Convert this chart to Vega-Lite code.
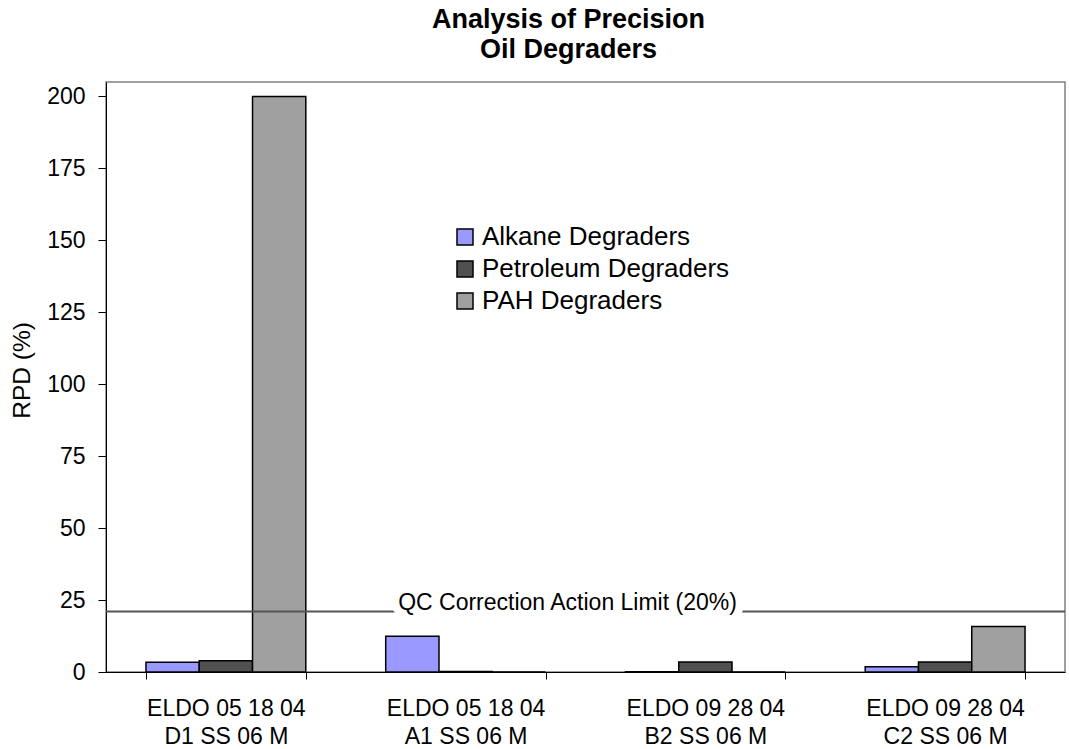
{
  "$schema": "https://vega.github.io/schema/vega-lite/v6.json",
  "width": 959,
  "height": 590,
  "autosize": {"type": "none"},
  "padding": {"left": 106, "top": 82, "right": 4, "bottom": 77},
  "background": "white",
  "title": {
    "text": ["Analysis of Precision", "Oil Degraders"],
    "font": "Liberation Sans",
    "fontSize": 27,
    "fontWeight": "bold",
    "lineHeight": 30,
    "anchor": "middle",
    "frame": "group",
    "dx": -17,
    "offset": 18,
    "color": "black"
  },
  "config": {
    "view": {"stroke": "#808080", "strokeWidth": 1.5},
    "font": "Liberation Sans",
    "axis": {
      "domainColor": "black",
      "tickColor": "black",
      "labelColor": "black",
      "titleColor": "black",
      "labelFont": "Liberation Sans",
      "titleFont": "Liberation Sans",
      "grid": false
    }
  },
  "datasets": {
    "rpd": [
      {"sample": "ELDO 05 18 04 D1 SS 06 M", "series": "Alkane Degraders", "rpd": 3.4},
      {"sample": "ELDO 05 18 04 D1 SS 06 M", "series": "Petroleum Degraders", "rpd": 3.9},
      {"sample": "ELDO 05 18 04 D1 SS 06 M", "series": "PAH Degraders", "rpd": 200},
      {"sample": "ELDO 05 18 04 A1 SS 06 M", "series": "Alkane Degraders", "rpd": 12.4},
      {"sample": "ELDO 05 18 04 A1 SS 06 M", "series": "Petroleum Degraders", "rpd": 0.2},
      {"sample": "ELDO 05 18 04 A1 SS 06 M", "series": "PAH Degraders", "rpd": 0},
      {"sample": "ELDO 09 28 04 B2 SS 06 M", "series": "Alkane Degraders", "rpd": 0.1},
      {"sample": "ELDO 09 28 04 B2 SS 06 M", "series": "Petroleum Degraders", "rpd": 3.5},
      {"sample": "ELDO 09 28 04 B2 SS 06 M", "series": "PAH Degraders", "rpd": 0},
      {"sample": "ELDO 09 28 04 C2 SS 06 M", "series": "Alkane Degraders", "rpd": 1.8},
      {"sample": "ELDO 09 28 04 C2 SS 06 M", "series": "Petroleum Degraders", "rpd": 3.5},
      {"sample": "ELDO 09 28 04 C2 SS 06 M", "series": "PAH Degraders", "rpd": 15.8}
    ],
    "limit": [{"value": 21, "label": "QC Correction Action Limit (20%)"}]
  },
  "layer": [
    {
      "data": {"name": "rpd"},
      "mark": {"type": "bar", "stroke": "black", "strokeWidth": 1.5},
      "encoding": {
        "x": {
          "field": "sample",
          "type": "nominal",
          "sort": null,
          "scale": {"paddingInner": 0.3333, "paddingOuter": 0.1667},
          "axis": {
            "title": null,
            "labelAngle": 0,
            "tickBand": "extent",
            "tickSize": 7,
            "labelFontSize": 23,
            "labelLineHeight": 28,
            "labelPadding": 18,
            "labelExpr": "[substring(datum.label, 0, 13), substring(datum.label, 14)]"
          }
        },
        "xOffset": {
          "field": "series",
          "sort": ["Alkane Degraders", "Petroleum Degraders", "PAH Degraders"],
          "scale": {"paddingInner": 0, "paddingOuter": 0}
        },
        "y": {
          "field": "rpd",
          "type": "quantitative",
          "scale": {"domain": [0, 205], "nice": false},
          "axis": {
            "values": [0, 25, 50, 75, 100, 125, 150, 175, 200],
            "title": "RPD (%)",
            "titleFontSize": 24.5,
            "titleFontWeight": "normal",
            "titleX": -72,
            "titleY": 288,
            "labelFontSize": 23,
            "tickSize": 8,
            "labelPadding": 13
          }
        },
        "fill": {
          "field": "series",
          "type": "nominal",
          "scale": {
            "domain": ["Alkane Degraders", "Petroleum Degraders", "PAH Degraders"],
            "range": ["#9999FF", "#505050", "#a0a0a0"]
          },
          "legend": {
            "title": null,
            "orient": "none",
            "legendX": 346,
            "legendY": 142,
            "padding": 0,
            "symbolType": "square",
            "symbolSize": 256,
            "symbolStrokeColor": "black",
            "symbolStrokeWidth": 1.5,
            "labelFontSize": 26,
            "labelColor": "black",
            "labelLimit": 500,
            "labelOffset": 4,
            "rowPadding": 6
          }
        }
      }
    },
    {
      "data": {"name": "limit"},
      "mark": {"type": "rule", "color": "#555555", "strokeWidth": 2},
      "encoding": {"y": {"field": "value", "type": "quantitative"}}
    },
    {
      "data": {"name": "limit"},
      "mark": {"type": "text", "stroke": "white", "strokeWidth": 16, "fill": "white", "fontSize": 23, "baseline": "bottom", "dx": -18, "dy": 3},
      "encoding": {
        "y": {"field": "value", "type": "quantitative"},
        "text": {"field": "label"}
      }
    },
    {
      "data": {"name": "limit"},
      "mark": {"type": "text", "fill": "black", "fontSize": 23, "baseline": "bottom", "dx": -18, "dy": 3},
      "encoding": {
        "y": {"field": "value", "type": "quantitative"},
        "text": {"field": "label"}
      }
    }
  ]
}
